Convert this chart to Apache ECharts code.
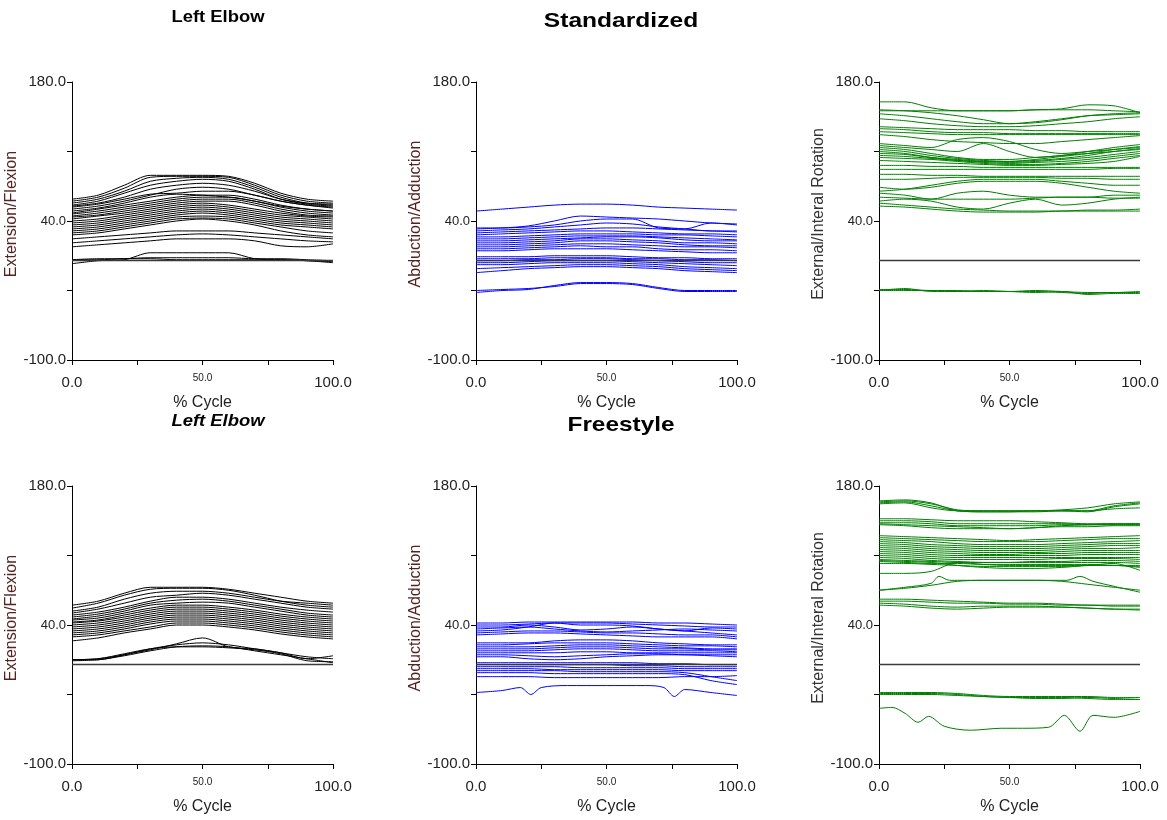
<!DOCTYPE html>
<html>
<head>
<meta charset="utf-8">
<script src="https://cdn.jsdelivr.net/npm/echarts@6/dist/echarts.min.js"></script>
<style>
html,body{margin:0;padding:0;background:#fff;}
#chart{width:1167px;height:820px;}
</style>
</head>
<body>
<div id="chart"></div>
<script>
// ---------- shared axis data ----------
const cyclePct = [0, 10, 20, 30, 40, 50, 60, 70, 80, 90, 100];
const yTickLabels = {"180": "180.0", "40": "40.0", "-100": "-100.0"};
const xTickLabels = {"0": "0.0", "50": "50.0", "100": "100.0"};
const panelTitles = ["Left Elbow", "Standardized", "Left Elbow", "Freestyle"];
const yAxisNames = ["Extension/Flexion", "Abduction/Adduction", "External/Interal Rotation"];
const xAxisName = "% Cycle";

// ---------- Standardized: Extension/Flexion (black) ----------
const stdFlex = [
  [62, 66, 76, 86, 86, 86, 85, 78, 68, 62, 60],
  [60, 64, 73, 84, 85, 85, 84, 76, 66, 60, 58],
  [58, 62, 70, 80, 83, 84, 82, 74, 64, 58, 56],
  [56, 60, 68, 76, 80, 82, 80, 72, 62, 57, 55],
  [55, 58, 64, 72, 76, 78, 76, 70, 62, 58, 57],
  [52, 55, 60, 66, 72, 74, 72, 66, 60, 56, 54],
  [54, 57, 62, 67, 68, 70, 70, 66, 60, 56, 53],
  [50, 53, 58, 64, 67, 66, 64, 60, 55, 52, 50],
  [48, 52, 56, 60, 64, 66, 66, 62, 56, 52, 50],
  [47, 50, 54, 58, 62, 64, 64, 60, 54, 50, 48],
  [45, 48, 52, 56, 60, 62, 62, 58, 52, 48, 46],
  [44, 46, 50, 54, 58, 60, 60, 56, 50, 46, 45],
  [42, 45, 48, 52, 56, 58, 56, 52, 48, 45, 44],
  [40, 42, 46, 50, 54, 56, 54, 50, 46, 44, 42],
  [38, 40, 44, 48, 52, 54, 52, 48, 44, 42, 40],
  [36, 38, 42, 46, 50, 52, 50, 46, 42, 40, 38],
  [34, 36, 40, 44, 48, 50, 48, 44, 40, 38, 36],
  [32, 34, 38, 42, 46, 48, 46, 42, 38, 36, 34],
  [30, 32, 36, 40, 44, 45, 44, 40, 36, 34, 32],
  [28, 30, 34, 38, 42, 43, 42, 38, 34, 30, 28],
  [26, 28, 32, 36, 40, 42, 40, 36, 30, 26, 24],
  [22, 24, 26, 28, 30, 30, 30, 28, 26, 24, 22],
  [18, 20, 22, 24, 26, 27, 26, 24, 22, 20, 19],
  [14, 16, 18, 20, 22, 22, 22, 20, 15, 14, 17],
  [1, 1, 2, 3, 3, 3, 3, 2, 2, 1, 0],
  [-3, 0, 1, 8, 8, 8, 8, 2, 1, 0, -2],
  [1, 2, 2, 2, 1, 1, 1, 1, 1, 0, -1]
];

// ---------- Standardized: Abduction/Adduction (blue) ----------
const stdAbd = [
  [50, 52, 54, 56, 57, 57, 56, 54, 53, 52, 51],
  [32, 33, 35, 40, 45, 44, 43, 42, 40, 38, 37],
  [33, 33, 34, 36, 40, 42, 42, 33, 32, 38, 36],
  [30, 31, 32, 34, 36, 38, 37, 34, 32, 30, 30],
  [28, 29, 30, 31, 32, 33, 33, 32, 31, 30, 29],
  [26, 27, 28, 29, 30, 30, 29, 28, 27, 27, 26],
  [24, 24, 25, 26, 27, 27, 27, 26, 26, 25, 24],
  [22, 22, 23, 24, 25, 25, 25, 24, 23, 22, 21],
  [20, 20, 21, 22, 23, 24, 24, 23, 21, 20, 20],
  [18, 18, 19, 20, 22, 22, 21, 20, 18, 18, 17],
  [16, 16, 17, 18, 20, 20, 19, 18, 16, 15, 15],
  [14, 14, 15, 16, 17, 17, 16, 15, 14, 14, 13],
  [12, 12, 13, 14, 15, 14, 14, 12, 11, 11, 10],
  [10, 10, 11, 12, 12, 12, 11, 10, 9, 8, 8],
  [4, 4, 4, 5, 5, 5, 4, 3, 3, 2, 2],
  [2, 2, 2, 3, 3, 3, 2, 2, 1, 1, 0],
  [0, 0, 1, 1, 2, 2, 1, 0, -1, -2, -2],
  [-2, -2, -1, 0, 0, 0, -1, -2, -3, -4, -5],
  [-4, -4, -3, -2, -2, -2, -3, -4, -6, -7, -8],
  [-8, -7, -6, -5, -4, -4, -5, -6, -8, -9, -10],
  [-12, -10, -8, -7, -6, -6, -7, -8, -10, -11, -12],
  [-32, -30, -29, -25, -22, -22, -23, -27, -30, -30, -30],
  [-30, -29, -28, -26, -23, -23, -24, -28, -31, -31, -31]
];

// ---------- Standardized: External/Internal Rotation (green) ----------
const stdRot = [
  [160, 160, 154, 151, 151, 151, 152, 153, 157, 156, 149],
  [152, 151, 149, 146, 142, 138, 139, 142, 146, 148, 149],
  [151, 151, 151, 151, 151, 151, 152, 152, 152, 151, 150],
  [148, 146, 143, 140, 138, 138, 140, 143, 146, 147, 148],
  [143, 141, 138, 136, 135, 135, 136, 138, 140, 143, 145],
  [135, 134, 133, 132, 132, 132, 131, 131, 130, 130, 130],
  [133, 132, 130, 129, 129, 128, 128, 128, 128, 128, 128],
  [130, 129, 128, 127, 127, 127, 127, 127, 127, 127, 127],
  [127, 125, 122, 120, 119, 118, 118, 120, 122, 124, 126],
  [118, 116, 114, 122, 124, 120, 112, 108, 110, 112, 114],
  [116, 114, 112, 110, 118, 110, 104, 106, 108, 110, 113],
  [114, 112, 108, 104, 102, 102, 104, 106, 110, 114, 117],
  [112, 110, 106, 103, 101, 100, 102, 105, 108, 112, 115],
  [110, 108, 104, 101, 100, 100, 101, 103, 106, 110, 112],
  [108, 107, 104, 102, 100, 99, 100, 102, 104, 107, 110],
  [106, 105, 103, 101, 99, 98, 99, 100, 102, 105, 108],
  [104, 103, 102, 100, 98, 97, 97, 98, 100, 103, 106],
  [101, 100, 99, 98, 97, 96, 96, 97, 98, 100, 105],
  [96, 96, 95, 95, 94, 94, 94, 94, 94, 94, 94],
  [92, 92, 92, 92, 92, 92, 92, 92, 92, 93, 93],
  [87, 87, 86, 86, 85, 85, 85, 85, 85, 85, 85],
  [82, 82, 83, 84, 84, 84, 84, 83, 83, 82, 82],
  [74, 72, 74, 78, 80, 80, 80, 78, 74, 70, 68],
  [70, 72, 76, 80, 82, 82, 82, 80, 78, 76, 76],
  [68, 66, 62, 68, 70, 66, 64, 64, 64, 66, 66],
  [64, 63, 62, 62, 62, 62, 63, 64, 64, 63, 63],
  [60, 62, 60, 54, 52, 58, 62, 56, 58, 62, 64],
  [58, 56, 54, 52, 51, 50, 50, 50, 51, 51, 52],
  [55, 54, 52, 50, 49, 49, 49, 50, 50, 50, 50],
  [-30, -30, -30, -31, -31, -31, -30, -31, -32, -32, -31],
  [-29, -29, -30, -30, -31, -31, -31, -32, -33, -32, -32],
  [-30, -28, -31, -31, -30, -31, -32, -31, -34, -33, -33]
];

// ---------- Freestyle: Extension/Flexion (black) ----------
const freeFlex = [
  [60, 64, 72, 78, 78, 78, 76, 72, 68, 64, 62],
  [57, 62, 70, 76, 77, 77, 75, 70, 64, 60, 58],
  [54, 58, 66, 72, 74, 74, 72, 68, 64, 62, 60],
  [52, 56, 62, 68, 70, 72, 70, 66, 62, 58, 56],
  [50, 53, 58, 64, 68, 68, 66, 62, 58, 55, 53],
  [48, 51, 56, 62, 65, 66, 64, 60, 56, 52, 50],
  [46, 49, 54, 60, 62, 63, 62, 58, 54, 50, 48],
  [45, 47, 52, 57, 60, 60, 58, 55, 51, 48, 46],
  [43, 45, 50, 55, 58, 58, 56, 53, 49, 46, 44],
  [42, 44, 48, 53, 56, 56, 54, 51, 47, 44, 42],
  [40, 42, 46, 51, 54, 54, 52, 49, 45, 42, 40],
  [38, 40, 44, 49, 52, 52, 50, 47, 43, 40, 38],
  [36, 38, 42, 47, 50, 50, 48, 45, 41, 38, 36],
  [34, 36, 40, 45, 48, 48, 46, 43, 39, 36, 34],
  [32, 34, 38, 43, 46, 46, 44, 41, 37, 34, 32],
  [30, 32, 36, 41, 44, 44, 42, 39, 35, 32, 30],
  [28, 30, 34, 38, 42, 42, 40, 37, 33, 30, 28],
  [24, 27, 32, 36, 40, 40, 38, 35, 31, 28, 26],
  [5, 6, 10, 16, 20, 22, 20, 16, 12, 8, 6],
  [4, 5, 9, 14, 18, 19, 18, 14, 10, 6, 2],
  [5, 5, 10, 15, 21, 27, 18, 16, 12, 6, 9],
  [5, 6, 11, 16, 18, 18, 17, 15, 11, 4, 3]
];

// ---------- Freestyle: Abduction/Adduction (blue) ----------
const freeAbd = [
  [42, 42, 43, 43, 43, 43, 43, 42, 42, 41, 40],
  [40, 40, 41, 42, 42, 42, 41, 40, 39, 38, 38],
  [38, 38, 40, 38, 35, 36, 38, 36, 34, 37, 36],
  [36, 37, 38, 36, 34, 33, 34, 35, 36, 35, 34],
  [34, 35, 38, 42, 40, 40, 39, 36, 34, 32, 30],
  [32, 33, 34, 34, 33, 32, 32, 31, 30, 30, 28],
  [30, 31, 32, 32, 31, 30, 29, 28, 28, 28, 26],
  [22, 22, 22, 24, 25, 25, 24, 22, 21, 20, 20],
  [20, 20, 21, 22, 22, 22, 21, 20, 19, 19, 18],
  [18, 18, 18, 19, 20, 20, 19, 18, 17, 16, 16],
  [16, 16, 16, 17, 18, 18, 17, 16, 16, 15, 15],
  [14, 14, 14, 15, 16, 16, 15, 14, 14, 14, 13],
  [12, 12, 12, 12, 13, 13, 12, 12, 12, 12, 12],
  [10, 10, 9, 8, 9, 10, 11, 11, 10, 10, 10],
  [8, 8, 6, 5, 6, 8, 9, 10, 10, 9, 8],
  [2, 2, 2, 2, 2, 2, 2, 1, 1, 0, 0],
  [0, 0, 0, 0, 0, 0, -1, -1, -2, -2, -2],
  [-2, -2, -2, -2, -3, -3, -3, -3, -4, -4, -4],
  [-4, -4, -4, -5, -5, -5, -5, -5, -6, -6, -6],
  [-6, -6, -6, -6, -7, -7, -7, -7, -8, -12, -16],
  [-8, -8, -8, -9, -9, -9, -9, -9, -10, -16, -20],
  [-12, -12, -12, -13, -13, -13, -13, -13, -12, -12, -11]
];
const freeAbdDipX = [0, 10, 17, 21, 25, 35, 50, 65, 72, 76, 80, 90, 100];
const freeAbdDipY = [-28, -26, -23, -30, -23, -21, -21, -21, -23, -32, -25, -28, -31];

// ---------- Freestyle: External/Internal Rotation (green) ----------
const freeRot = [
  [165, 166, 163, 155, 154, 154, 154, 155, 155, 160, 163],
  [164, 165, 162, 156, 155, 155, 155, 156, 158, 162, 164],
  [163, 164, 160, 155, 154, 154, 155, 155, 154, 159, 162],
  [162, 163, 158, 155, 155, 155, 155, 155, 155, 157, 158],
  [147, 147, 146, 145, 145, 145, 144, 143, 142, 142, 142],
  [145, 145, 144, 142, 142, 142, 142, 142, 141, 141, 141],
  [143, 143, 142, 140, 140, 140, 140, 141, 141, 141, 141],
  [142, 141, 140, 139, 138, 137, 138, 139, 139, 140, 140],
  [141, 140, 138, 137, 137, 137, 138, 140, 141, 142, 142],
  [130, 129, 128, 127, 126, 125, 126, 127, 128, 129, 130],
  [128, 127, 126, 125, 124, 124, 124, 125, 126, 127, 127],
  [126, 125, 124, 122, 121, 121, 121, 122, 123, 124, 125],
  [124, 123, 121, 120, 119, 119, 119, 120, 121, 122, 122],
  [122, 121, 119, 118, 117, 117, 117, 118, 119, 120, 120],
  [120, 119, 117, 116, 115, 115, 115, 116, 117, 117, 118],
  [118, 117, 115, 114, 113, 113, 113, 114, 115, 115, 115],
  [116, 115, 113, 112, 111, 111, 112, 112, 113, 113, 113],
  [114, 113, 111, 110, 110, 110, 110, 110, 111, 111, 111],
  [112, 111, 109, 108, 108, 108, 108, 108, 108, 108, 108],
  [110, 109, 107, 106, 106, 106, 106, 107, 107, 107, 106],
  [108, 107, 105, 104, 103, 103, 104, 104, 105, 105, 104],
  [106, 105, 104, 103, 103, 103, 103, 103, 103, 103, 102],
  [104, 103, 102, 102, 101, 101, 101, 101, 101, 100, 100],
  [102, 102, 101, 100, 99, 99, 99, 99, 100, 100, 98],
  [92, 92, 94, 103, 101, 100, 100, 100, 100, 100, 99],
  [105, 104, 103, 100, 98, 97, 97, 98, 100, 102, 95],
  [75, 77, 80, 84, 85, 85, 85, 84, 81, 78, 75],
  [66, 66, 65, 64, 63, 62, 62, 61, 60, 60, 60],
  [64, 64, 63, 62, 62, 61, 61, 60, 60, 59, 59],
  [62, 61, 59, 58, 59, 59, 59, 58, 57, 56, 56],
  [60, 59, 57, 56, 57, 58, 58, 58, 57, 56, 55],
  [-28, -28, -28, -29, -31, -32, -32, -32, -32, -33, -33],
  [-29, -29, -29, -30, -32, -33, -34, -34, -33, -34, -35],
  [-30, -30, -30, -31, -32, -33, -33, -33, -34, -35, -35]
];
const freeRotBumpX = [0, 10, 20, 23, 27, 40, 60, 72, 77, 82, 90, 100];
const freeRotBumpY = [75, 78, 82, 89, 85, 85, 85, 85, 89, 84, 79, 73];
const freeRotWiggleX = [0, 5, 10, 15, 19, 25, 35, 47, 55, 65, 71, 77, 82, 90, 100];
const freeRotWiggleY = [-44, -43, -49, -58, -52, -62, -66, -64, -64, -63, -51, -67, -51, -53, -47];

// ---------- layout ----------
const FONT = "Liberation Sans, Arial, sans-serif";
const gridLefts = [72, 476, 879];
const gridTops = [82, 486];
const panelColors = ["#000000", "#0000ff", "#008000"];
const yNameColors = ["#552222", "#552222", "#333333"];

const panels = [
  {row: 0, col: 0, lines: stdFlex, extra: []},
  {row: 0, col: 1, lines: stdAbd, extra: []},
  {row: 0, col: 2, lines: stdRot, extra: []},
  {row: 1, col: 0, lines: freeFlex, extra: []},
  {row: 1, col: 1, lines: freeAbd, extra: [[freeAbdDipX, freeAbdDipY]]},
  {row: 1, col: 2, lines: freeRot, extra: [[freeRotBumpX, freeRotBumpY], [freeRotWiggleX, freeRotWiggleY]]}
];

const grids = [], xAxes = [], yAxes = [], series = [];
panels.forEach((p, i) => {
  grids.push({left: gridLefts[p.col], top: gridTops[p.row], width: 261, height: 278, containLabel: false, outerBoundsMode: 'none'});
  xAxes.push({
    type: 'value', gridIndex: i, min: 0, max: 100, interval: 25,
    name: xAxisName, nameLocation: 'middle', nameGap: 35,
    nameTextStyle: {fontFamily: FONT, fontSize: 16, color: '#222'},
    axisLine: {show: true, onZero: false, lineStyle: {color: '#000', width: 1}},
    axisTick: {show: true, length: 5, lineStyle: {color: '#000'}},
    splitLine: {show: false},
    axisLabel: {
      margin: 14, fontFamily: FONT, color: '#222',
      formatter: v => {
        const t = xTickLabels[String(v)];
        if (!t) return '';
        return v === 50 ? '{s|' + t + '}' : '{b|' + t + '}';
      },
      rich: {
        b: {fontSize: 15, lineHeight: 17, fontFamily: FONT, color: '#222'},
        s: {fontSize: 10, lineHeight: 8, fontFamily: FONT, color: '#222'}
      }
    }
  });
  yAxes.push({
    type: 'value', gridIndex: i, min: -100, max: 180, interval: 70,
    name: yAxisNames[p.col], nameLocation: 'middle', nameGap: 46, nameRotate: 90,
    nameTextStyle: {fontFamily: FONT, fontSize: 16, color: yNameColors[p.col], padding: [0, 0, 0, 14]},
    axisLine: {show: true, onZero: false, lineStyle: {color: '#000', width: 1}},
    axisTick: {show: true, length: 5, lineStyle: {color: '#000'}},
    splitLine: {show: false},
    axisLabel: {
      margin: 6, fontFamily: FONT, color: '#222',
      formatter: v => {
        const t = yTickLabels[String(v)];
        if (!t) return '';
        return v === 40 ? '{m|' + t + '}' : '{b|' + t + '}';
      },
      rich: {
        b: {fontSize: 15, fontFamily: FONT, color: '#222'},
        m: {fontSize: 13, fontFamily: FONT, color: '#222'}
      }
    }
  });
  // zero reference line
  series.push({
    type: 'line', xAxisIndex: i, yAxisIndex: i, data: [], silent: true, z: 1,
    markLine: {silent: true, symbol: 'none', animation: false, label: {show: false},
      lineStyle: {color: '#3a3a3a', width: 1.3, type: 'solid'}, data: [{yAxis: 0}]}
  });
  p.lines.forEach(vals => {
    series.push({
      type: 'line', xAxisIndex: i, yAxisIndex: i, silent: true, z: 2,
      data: cyclePct.map((x, j) => [x, vals[j]]),
      showSymbol: false, symbol: 'none', smooth: 0.3,
      lineStyle: {color: panelColors[p.col], width: 1}
    });
  });
  p.extra.forEach(([xs, ys]) => {
    series.push({
      type: 'line', xAxisIndex: i, yAxisIndex: i, silent: true, z: 2,
      data: xs.map((x, j) => [x, ys[j]]),
      showSymbol: false, symbol: 'none', smooth: 0.3,
      lineStyle: {color: panelColors[p.col], width: 1}
    });
  });
});

const titleText = (text, x, y, size, italic, sx) => ({
  type: 'text', x: x, y: y, scaleX: sx, scaleY: 1, originX: 0, originY: 0,
  style: {text: text, fontFamily: FONT, fontSize: size, fontWeight: 'bold',
    fontStyle: italic ? 'italic' : 'normal', fill: '#000',
    textAlign: 'center', textVerticalAlign: 'middle'}
});

const chart = echarts.init(document.getElementById('chart'), null, {renderer: 'canvas'});
chart.setOption({
  animation: false,
  backgroundColor: '#ffffff',
  grid: grids, xAxis: xAxes, yAxis: yAxes, series: series,
  graphic: [
    titleText(panelTitles[0], 218, 18, 16, false, 1.15),
    titleText(panelTitles[1], 621, 21, 21, false, 1.17),
    titleText(panelTitles[2], 218, 422, 16, true, 1.15),
    titleText(panelTitles[3], 621, 425, 21, false, 1.16)
  ]
});
</script>
</body>
</html>
